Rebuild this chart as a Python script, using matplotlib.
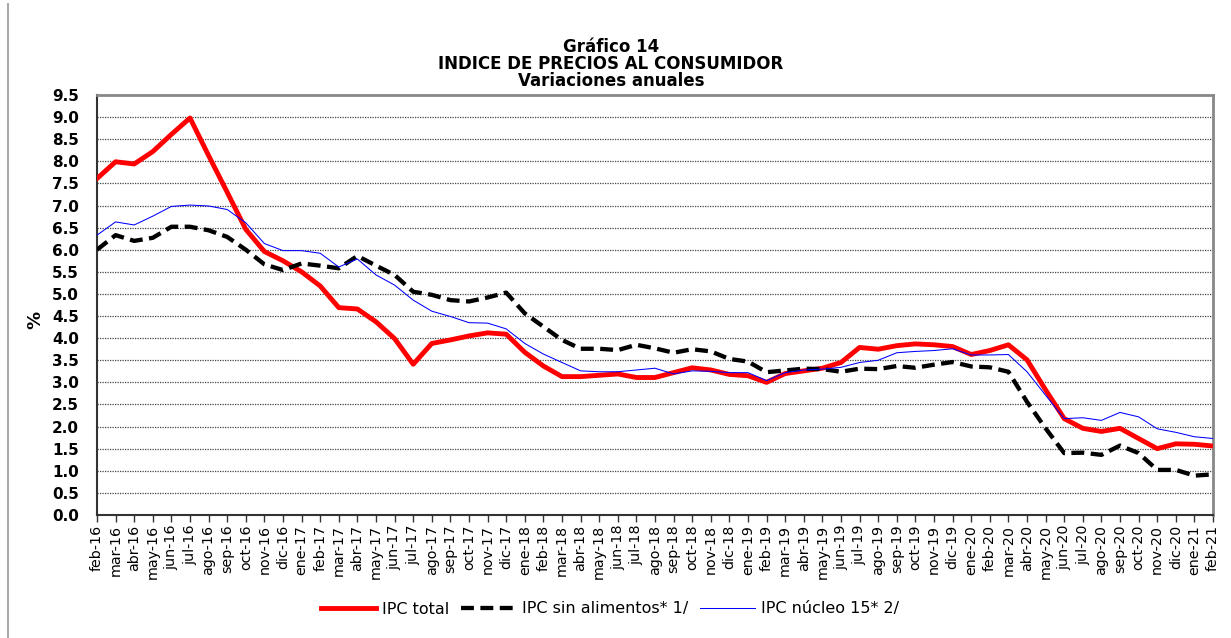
import matplotlib
matplotlib.use("Agg")
import matplotlib.pyplot as plt
from matplotlib.lines import Line2D

plt.rcParams['font.family'] = ['DejaVu Sans']

months = ["feb-16", "mar-16", "abr-16", "may-16", "jun-16", "jul-16", "ago-16", "sep-16", "oct-16", "nov-16", "dic-16",
          "ene-17", "feb-17", "mar-17", "abr-17", "may-17", "jun-17", "jul-17", "ago-17", "sep-17", "oct-17", "nov-17", "dic-17",
          "ene-18", "feb-18", "mar-18", "abr-18", "may-18", "jun-18", "jul-18", "ago-18", "sep-18", "oct-18", "nov-18", "dic-18",
          "ene-19", "feb-19", "mar-19", "abr-19", "may-19", "jun-19", "jul-19", "ago-19", "sep-19", "oct-19", "nov-19", "dic-19",
          "ene-20", "feb-20", "mar-20", "abr-20", "may-20", "jun-20", "jul-20", "ago-20", "sep-20", "oct-20", "nov-20", "dic-20",
          "ene-21", "feb-21"]

ipc_total = [7.61, 7.99, 7.94, 8.22, 8.61, 8.98, 8.13, 7.30, 6.46, 5.96, 5.75, 5.50, 5.18, 4.69, 4.66, 4.37,
             3.99, 3.41, 3.88, 3.96, 4.05, 4.12, 4.09, 3.68, 3.37, 3.13, 3.13, 3.16, 3.19, 3.11, 3.11,
             3.22, 3.33, 3.28, 3.18, 3.15, 3.00, 3.20, 3.26, 3.32, 3.45, 3.79, 3.75, 3.83, 3.87, 3.85,
             3.81, 3.63, 3.72, 3.85, 3.51, 2.83, 2.18, 1.96, 1.89, 1.96, 1.73, 1.50, 1.61, 1.60, 1.56]

ipc_sin_alimentos = [6.00, 6.33, 6.20, 6.27, 6.52, 6.52, 6.44, 6.29, 6.00, 5.67, 5.54, 5.69, 5.64, 5.58, 5.86, 5.64,
                     5.43, 5.05, 4.98, 4.86, 4.83, 4.92, 5.03, 4.56, 4.26, 3.96, 3.76, 3.76, 3.73, 3.85, 3.77,
                     3.67, 3.75, 3.70, 3.53, 3.47, 3.23, 3.27, 3.31, 3.30, 3.24, 3.31, 3.30, 3.37, 3.33, 3.40,
                     3.46, 3.36, 3.34, 3.24, 2.56, 1.96, 1.40, 1.41, 1.36, 1.57, 1.40, 1.02, 1.02, 0.89, 0.92]

ipc_nucleo = [6.33, 6.63, 6.56, 6.76, 6.98, 7.01, 6.99, 6.91, 6.61, 6.14, 5.98, 5.98, 5.92, 5.61, 5.79, 5.43,
              5.20, 4.86, 4.61, 4.49, 4.35, 4.34, 4.21, 3.88, 3.64, 3.45, 3.26, 3.24, 3.24, 3.28, 3.32,
              3.19, 3.26, 3.25, 3.22, 3.22, 3.04, 3.22, 3.28, 3.30, 3.34, 3.45, 3.50, 3.67, 3.70, 3.72,
              3.76, 3.62, 3.62, 3.63, 3.24, 2.71, 2.18, 2.20, 2.14, 2.32, 2.22, 1.95, 1.87, 1.77, 1.73]

y_ticks = [0.0, 0.5, 1.0, 1.5, 2.0, 2.5, 3.0, 3.5, 4.0, 4.5, 5.0, 5.5, 6.0, 6.5, 7.0, 7.5, 8.0, 8.5, 9.0, 9.5]

W, H = 1231, 638
fig = plt.figure(figsize=(W / 100, H / 100), dpi=100)
fig.patch.set_facecolor('white')

L, R, T, B = 97, 1213, 95, 515
ax = fig.add_axes([L / W, 1 - B / H, (R - L) / W, (B - T) / H])

x = list(range(len(months)))
ax.plot(x, ipc_total, color='#ff0000', lw=3.5, solid_joinstyle='round', zorder=3, label='IPC total')
ax.plot(x, ipc_sin_alimentos, color='black', lw=3.1, dashes=(3.0, 1.5), zorder=4, label='IPC sin alimentos* 1/')
ax.plot(x, ipc_nucleo, color='#0000ff', lw=0.75, zorder=5, label='IPC núcleo 15* 2/')

ax.set_xlim(0, len(months) - 1)
ax.set_ylim(0, 9.5)
ax.set_yticks(y_ticks)
ax.set_yticklabels([f"{v:.1f}" for v in y_ticks], fontsize=11, fontweight='bold')
ax.set_xticks(x)
ax.set_xticklabels(months, rotation=90, fontsize=10.3)
ax.tick_params(axis='x', direction='out', length=5, width=1, pad=2, color='#333333')
ax.tick_params(axis='y', length=0, pad=13)

for v in y_ticks[1:-1]:
    ax.axhline(v, color='#444444', lw=0.9, ls=(0, (1, 1)), zorder=1)

ax.spines['left'].set_color('#333333')
ax.spines['left'].set_linewidth(1.5)
ax.spines['bottom'].set_color('#333333')
ax.spines['bottom'].set_linewidth(1.5)
ax.spines['top'].set_color('#888888')
ax.spines['top'].set_linewidth(2)
ax.spines['right'].set_color('#888888')
ax.spines['right'].set_linewidth(2)

fig.text(35 / W, 1 - 320 / H, '%', rotation=90, ha='center', va='center', fontsize=13, fontweight='bold')

fig.text(611 / W, 1 - 47 / H, 'Gráfico 14', ha='center', va='center', fontsize=12, fontweight='bold')
fig.text(611 / W, 1 - 64 / H, 'INDICE DE PRECIOS AL CONSUMIDOR', ha='center', va='center', fontsize=12, fontweight='bold')
fig.text(611 / W, 1 - 81 / H, 'Variaciones anuales', ha='center', va='center', fontsize=12, fontweight='bold')

fig.add_artist(Line2D([8 / W, 8 / W], [0, 1 - 4 / H], transform=fig.transFigure, color='#aaaaaa', lw=1.5))

handles, labels = ax.get_legend_handles_labels()
fig.legend(handles, labels, loc='center', bbox_to_anchor=(610 / W, 1 - 609 / H), ncol=3, frameon=False,
           fontsize=11.5, handlelength=3.45, handletextpad=0.4, columnspacing=0.7)

fig.savefig('out.png', dpi=100, facecolor='white')
